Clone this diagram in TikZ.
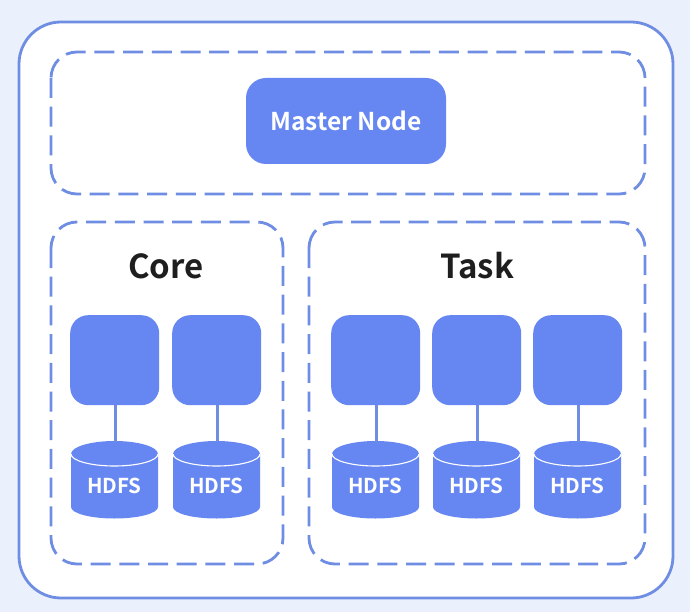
\documentclass[tikz,border=0pt]{standalone}
\usepackage{fontspec}
\setmainfont{Noto Sans CJK SC}[BoldFont=* Bold]
\usetikzlibrary{calc}
\definecolor{pagebg}{HTML}{EAF1FC}
\definecolor{fillblue}{HTML}{6687F1}
\definecolor{edgeblue}{HTML}{6F8EE3}
\definecolor{inktext}{HTML}{1E1E1E}
\tikzset{
  x=1pt,y=-1pt,
  outerbox/.style={draw=edgeblue,line width=2.8pt,fill=white,rounded corners=42pt},
  groupbox/.style={draw=edgeblue,line width=2.8pt,rounded corners=26pt,dash pattern=on 20pt off 8.7pt},
  blockbox/.style={fill=fillblue,rounded corners=18pt},
  masterbox/.style={fill=fillblue,rounded corners=20pt},
  link/.style={draw=edgeblue,line width=3.2pt},
  whitelabel/.style={text=white,font=\bfseries\fontsize{20.5}{24}\selectfont,inner sep=0pt},
  grouptitle/.style={text=inktext,font=\bfseries\fontsize{33}{38}\selectfont,inner sep=0pt},
  cylbody/.style={fill=fillblue},
  cylrim/.style={draw=white,line width=1.1pt},
}
\newcommand{\worker}[3]{% name, left x, width
  \node[blockbox,minimum width=#3pt,minimum height=90pt,inner sep=0pt,anchor=north west] (b#1) at (#2,315) {};
  \fill[cylbody] (#2+1,454) arc[x radius=#3/2-1,y radius=13,start angle=180,end angle=360]
     -- (#2+#3-1,507) arc[x radius=#3/2-1,y radius=11.5,start angle=0,end angle=180] -- cycle;
  \draw[cylrim] (#2+1,454) arc[x radius=#3/2-1,y radius=12,start angle=180,end angle=0];
  \coordinate (c#1) at ($(b#1.south)+(0.5,37)$);
  \draw[link] ($(b#1.south)+(0.5,0)$) -- (c#1);
  \node[whitelabel] (h#1) at (#2+#3/2,486) {HDFS};
}
\begin{document}
\begin{tikzpicture}
\useasboundingbox (0,0) rectangle (690,612);
\fill[pagebg] (0,0) rectangle (690,612);
\draw[outerbox] (19,22) rectangle (673,598);
\draw[groupbox] (51,52) rectangle (645,194);
\draw[groupbox] (51,222) rectangle (283,564);
\draw[groupbox] (309,222) rectangle (645,564);
\node[masterbox,minimum width=200pt,minimum height=86pt,inner sep=0pt] (master) at (346,121) {};
\node[whitelabel,font=\bfseries\fontsize{24.5}{28}\selectfont] (masterlabel) at (346,121) {Master Node};
\node[grouptitle] (core) at (166,266) {Core};
\node[grouptitle] (task) at (477,266) {Task};
\worker{1}{70}{89}
\worker{2}{172}{89}
\worker{3}{331}{89}
\worker{4}{432}{89}
\worker{5}{533}{89}
\end{tikzpicture}
\end{document}
